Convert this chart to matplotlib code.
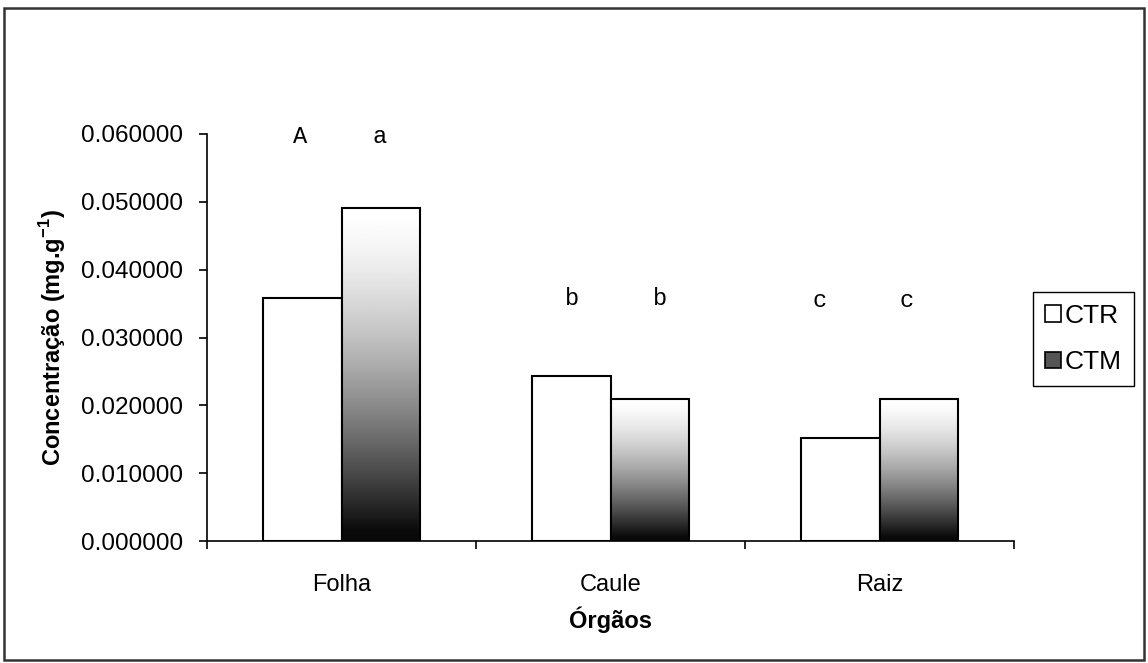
import numpy as np
import matplotlib
matplotlib.use("Agg")
from matplotlib import pyplot as plt
from matplotlib.patches import Patch, Rectangle
from matplotlib.ticker import FormatStrFormatter, FixedLocator

# data
orgaos = ["Folha", "Caule", "Raiz"]
ctr = [0.0358, 0.0243, 0.0152]
ctm = [0.0491, 0.0210, 0.0210]
series = ["CTR", "CTM"]

# significance letters (x in category units, y in data units)
letras = ["A", "a", "b", "b", "c", "c"]
letras_x = [-0.154, 0.143, 0.857, 1.184, 1.779, 2.102]
letras_y = [0.0596, 0.0596, 0.0358, 0.0358, 0.0355, 0.0355]

plt.rcParams['font.family'] = ['Liberation Sans', 'DejaVu Sans']

fig = plt.figure(figsize=(11.48, 6.63), dpi=100)
ax = fig.add_axes([207/1148, 1-541/663, (1014-207)/1148, (541-134)/663])

x = np.arange(len(orgaos))
w = 0.29

#white bars
ax.bar(x - w/2, ctr, width=w, facecolor='white', edgecolor='black', linewidth=1.5, zorder=3)

#gradient bars (white at top -> black at bottom)
grad = 1 - np.linspace(0, 1, 256) ** 1.5
grad = np.clip(grad, 0.04, 1).reshape(-1, 1)
bars = ax.bar(x + w/2, ctm, width=w, facecolor='none', edgecolor='black', linewidth=1.5, zorder=4)
for b in bars:
    x0, y0 = b.get_x(), b.get_y()
    im = ax.imshow(grad, cmap='gray', vmin=0, vmax=1, aspect='auto',
                   extent=[x0, x0 + b.get_width(), y0, y0 + b.get_height()], zorder=3)
    im.set_clip_path(b)

for t, lx, ly in zip(letras, letras_x, letras_y):
    ax.text(lx, ly, t, ha='center', va='center', fontsize=17,
            family=['Liberation Mono', 'DejaVu Sans Mono'])

ax.set_xlim(-0.5, 2.5)
ax.set_ylim(0, 0.06)
ax.set_yticks(np.arange(0, 0.0601, 0.01))
ax.yaxis.set_major_formatter(FormatStrFormatter('%.6f'))
ax.tick_params(axis='y', direction='out', length=6, width=1.2, labelsize=17.5, pad=11)

ax.xaxis.set_major_locator(FixedLocator([-0.5, 0.5, 1.5, 2.5]))
ax.xaxis.set_minor_locator(FixedLocator(x))
ax.set_xticklabels([], minor=False)
ax.set_xticklabels(orgaos, minor=True)
ax.tick_params(axis='x', which='major', direction='out', length=6, width=1.2)
ax.tick_params(axis='x', which='minor', length=0, labelsize=17, pad=24)

for s in ['top', 'right']:
    ax.spines[s].set_visible(False)
for s in ['left', 'bottom']:
    ax.spines[s].set_linewidth(1.2)

lab_font = dict(family=['Liberation Sans Narrow', 'Liberation Sans'], weight='bold', size=17)
ax.set_ylabel("Concentração (mg.g$^{\\mathregular{-1}}$)", **lab_font)
ax.yaxis.set_label_coords(-0.172, 0.5)
ax.set_xlabel("Órgãos", **lab_font)
ax.xaxis.set_label_coords(0.5, -0.194)
ax.xaxis.label.set_va('center')

handles = [Patch(facecolor='white', edgecolor='black', linewidth=1.2),
           Patch(facecolor='#555555', edgecolor='black', linewidth=1.2)]
fig.legend(handles, series, loc='upper left', bbox_to_anchor=(1033/1148, 1-292/663),
           frameon=True, fancybox=False, edgecolor='black', framealpha=1,
           fontsize=19, handlelength=0.6, handleheight=0.6, handletextpad=0.15,
           borderpad=0.45, labelspacing=0.85, borderaxespad=0)

#outer frame
fig.patches.append(Rectangle((4/1148, 3/663), 1140/1148, 652/663, transform=fig.transFigure,
                             fill=False, edgecolor='#333333', linewidth=1.8))

fig.savefig("out.png", dpi=100)
